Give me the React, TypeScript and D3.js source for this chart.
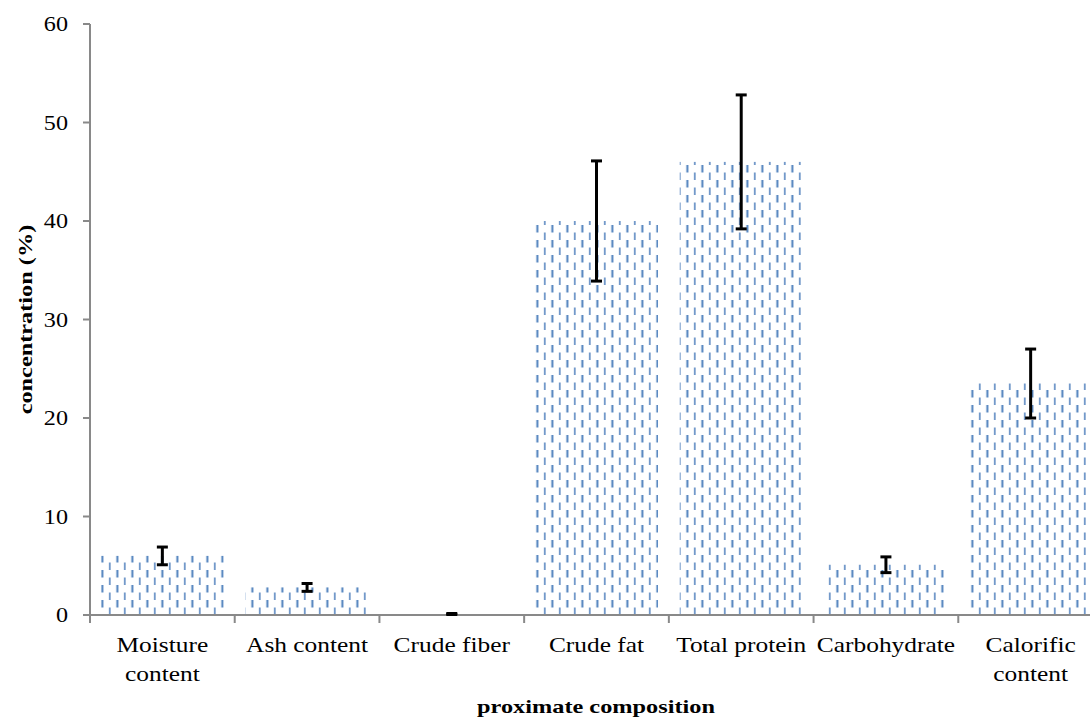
import React from "react";
import * as d3 from "d3";

const categories = ["Moisture content", "Ash content", "Crude fiber", "Crude fat", "Total protein", "Carbohydrate", "Calorific content"];
const labelLines = [["Moisture", "content"], ["Ash content"], ["Crude fiber"], ["Crude fat"], ["Total protein"], ["Carbohydrate"], ["Calorific", "content"]];
const values = [6.0, 2.8, 0.1, 40.0, 46.0, 5.1, 23.5];
const errors = [0.9, 0.4, 0.05, 6.1, 6.8, 0.8, 3.5];
const yTicks = [0, 10, 20, 30, 40, 50, 60];

export default function App() {
  const W = 1090, H = 721;
  const x0 = 90, y0 = 615, yTop = 24;
  const x = d3.scaleBand<string>().domain(categories).range([x0, 1103]).paddingInner(0.15).paddingOuter(0.075);
  const y = d3.scaleLinear().domain([0, 60]).range([y0, yTop]);
  const step = x.step();
  const font = "'Liberation Serif', 'Times New Roman', serif";
  const axisColor = "#898989";
  return (
    <svg width={W} height={H} style={{ position: "absolute", left: 0, top: 0, background: "#fff" }}>
      <defs>
        <pattern id="dash" patternUnits="userSpaceOnUse" width={15} height={15} x={x(categories[0])} y={0}>
          <rect x={0.5} y={0} width={2} height={7.5} fill="#4f81bd" />
          <rect x={8} y={7.5} width={1.8} height={7.5} fill="#6f96c8" />
        </pattern>
      </defs>
      <rect x={0} y={0} width={W} height={H} fill="#fff" />
      {categories.map((c, i) => (
        <rect key={c} x={x(c)} y={y(values[i])} width={x.bandwidth()} height={y0 - y(values[i])} fill="url(#dash)" />
      ))}
      {/* axes */}
      <line x1={x0} y1={yTop} x2={x0} y2={y0 + 8} stroke={axisColor} strokeWidth={2} />
      <line x1={x0 - 7} y1={y0} x2={W} y2={y0} stroke={axisColor} strokeWidth={2} />
      {yTicks.map((t) => (
        <g key={t}>
          <line x1={x0 - 7} x2={x0} y1={y(t)} y2={y(t)} stroke={axisColor} strokeWidth={2} />
          <text transform={`translate(68, ${y(t)}) scale(1.15, 1)`} dy="0.35em" textAnchor="end" fontFamily={font} fontSize={21}>{t}</text>
        </g>
      ))}
      {d3.range(0, 8).map((i) => (
        <line key={i} x1={x0 + i * step} x2={x0 + i * step} y1={y0} y2={y0 + 8} stroke={axisColor} strokeWidth={2} />
      ))}
      {/* error bars */}
      {categories.map((c, i) => {
        const cx = (x(c) as number) + x.bandwidth() / 2;
        const hi = y(values[i] + errors[i]);
        const lo = y(values[i] - errors[i]);
        return (
          <g key={c} stroke="#000" strokeWidth={3}>
            <line x1={cx} x2={cx} y1={hi} y2={lo} />
            <line x1={cx - 5.5} x2={cx + 5.5} y1={hi} y2={hi} />
            <line x1={cx - 5.5} x2={cx + 5.5} y1={lo} y2={lo} />
          </g>
        );
      })}
      {/* category labels */}
      {categories.map((c, i) => {
        const cx = (x(c) as number) + x.bandwidth() / 2;
        return (
          <g key={c}>
            {labelLines[i].map((l, j) => (
              <text key={j} transform={`translate(${cx}, ${652 + j * 29}) scale(1.21, 1)`} textAnchor="middle" fontFamily={font} fontSize={21}>{l}</text>
            ))}
          </g>
        );
      })}
      <text transform="translate(596, 713) scale(1.28, 1)" textAnchor="middle" fontFamily={font} fontSize={19} fontWeight="bold">proximate composition</text>
      <text transform={`translate(32, ${(yTop + y0) / 2}) rotate(-90) scale(1.28, 1)`} textAnchor="middle" fontFamily={font} fontSize={19} fontWeight="bold">concentration (%)</text>
    </svg>
  );
}
